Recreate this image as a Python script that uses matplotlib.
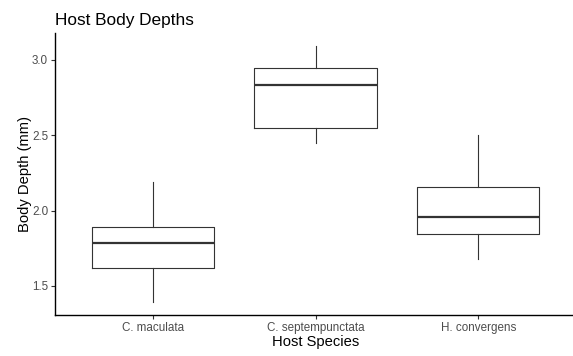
import matplotlib
matplotlib.use("Agg")
import matplotlib.pyplot as plt

species = ["C. maculata", "C. septempunctata", "H. convergens"]
whislo = [1.396, 2.447, 1.677]
q1 = [1.617, 2.547, 1.843]
med = [1.787, 2.832, 1.960]
q3 = [1.894, 2.945, 2.155]
whishi = [2.190, 3.093, 2.502]
yticks = [1.5, 2.0, 2.5, 3.0]

plt.rcParams['font.family'] = ['Liberation Sans', 'DejaVu Sans']

W, H = 573, 356
fig = plt.figure(figsize=(W / 100, H / 100), dpi=100)
ax = fig.add_axes([55 / W, (H - 315) / H, (576 - 55) / W, (315 - 33) / H])

stats = []
for i, name in enumerate(species):
    stats.append(dict(label=name, whislo=whislo[i], q1=q1[i], med=med[i],
                      q3=q3[i], whishi=whishi[i], fliers=[]))

col = '#333333'
ax.bxp(stats, positions=range(len(species)), widths=0.75, showfliers=False,
       showcaps=False,
       boxprops=dict(color=col, linewidth=0.8),
       whiskerprops=dict(color=col, linewidth=0.8),
       medianprops=dict(color=col, linewidth=1.6))

ax.set_xlim(-0.6, 2.6)
ax.set_ylim(1.307, 3.179)
ax.set_yticks(yticks)
ax.set_yticklabels([f"{v:.1f}" for v in yticks])
ax.set_xticks(range(len(species)))
ax.set_xticklabels(species)
for s in ['top', 'right']:
    ax.spines[s].set_visible(False)
for s in ['left', 'bottom']:
    ax.spines[s].set_color('black')
    ax.spines[s].set_linewidth(1.0)
ax.tick_params(axis='both', colors='#333333', labelcolor='#4D4D4D',
               labelsize=8.4, length=3, width=0.8, pad=2)

ax.set_xlabel("Host Species", fontsize=10.6, labelpad=1)
ax.set_ylabel("Body Depth (mm)", fontsize=10.6, labelpad=0)
fig.text(55 / W, (H - 25) / H, "Host Body Depths", fontsize=12.4,
         ha='left', va='baseline')

fig.savefig("out.png", dpi=100)
